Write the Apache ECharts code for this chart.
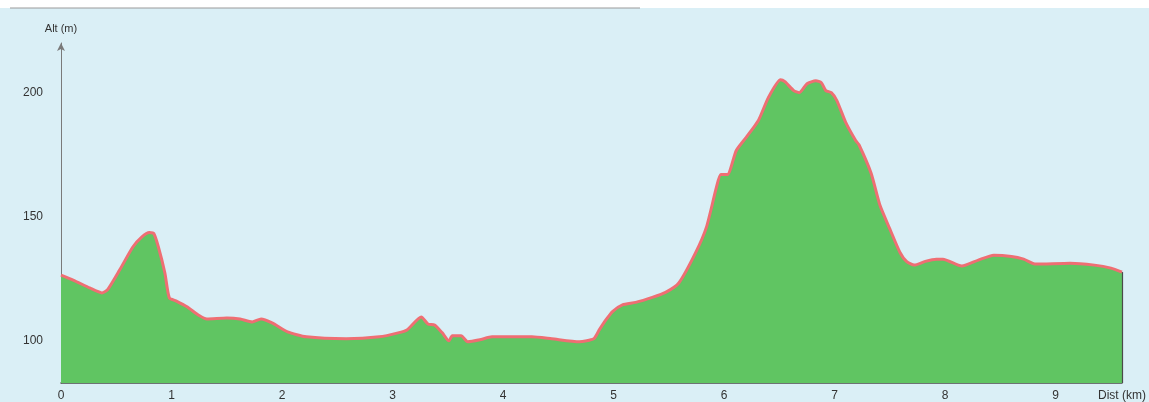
<!DOCTYPE html>
<html>
<head>
<meta charset="utf-8">
<script src="https://cdn.jsdelivr.net/npm/echarts@6/dist/echarts.min.js"></script>
<style>
html,body{margin:0;padding:0;background:#daeff6;}
#c{width:1149px;height:402px;}
</style>
</head>
<body>
<div id="c"></div>
<script>
// Distance along track (km)
const distKm = [0, 0.11, 0.26, 0.37, 0.42, 0.53, 0.65, 0.73, 0.8, 0.84, 0.88, 0.94, 0.98, 1.04, 1.14, 1.25, 1.32, 1.5, 1.62, 1.73, 1.81, 1.91, 2.05, 2.22, 2.58, 2.88, 3.05, 3.13, 3.26, 3.32, 3.38, 3.45, 3.51, 3.54, 3.62, 3.68, 3.79, 3.9, 4.26, 4.44, 4.69, 4.82, 4.87, 4.93, 4.99, 5.08, 5.2, 5.35, 5.47, 5.59, 5.74, 5.84, 5.93, 5.97, 6.03, 6.11, 6.2, 6.31, 6.4, 6.51, 6.55, 6.63, 6.68, 6.75, 6.83, 6.88, 6.92, 6.97, 7.02, 7.1, 7.19, 7.22, 7.33, 7.41, 7.5, 7.59, 7.65, 7.72, 7.82, 7.92, 7.98, 8.15, 8.3, 8.44, 8.6, 8.71, 8.82, 9.13, 9.35, 9.5, 9.6];
// Altitude (m)
const altM = [126.5, 124.5, 121.3, 119.3, 120.5, 128.5, 137.8, 141.8, 143.6, 143.2, 138, 127.3, 117.3, 116.1, 113.7, 110.2, 108.8, 109.2, 108.8, 107.6, 108.8, 107.2, 103.6, 101.6, 100.8, 101.6, 103.2, 104.4, 109.6, 106.8, 106.4, 103.2, 100, 102, 102, 99.6, 100.4, 101.6, 101.6, 100.8, 99.6, 100.8, 104.4, 108.4, 111.8, 114.5, 115.5, 117.5, 119.5, 123.3, 135.3, 145.8, 161.8, 167, 167, 176.7, 182, 188.8, 198, 205.2, 204.4, 200.8, 200, 203.6, 204.8, 204, 200.8, 200, 196.8, 188, 180.7, 179, 167.5, 154.6, 145, 135.7, 132, 130.5, 132, 132.9, 132.9, 130.1, 132.5, 134.5, 134, 132.9, 130.9, 131.3, 130.5, 129.3, 127.7];
// Tick labels
const xTicks = [0, 1, 2, 3, 4, 5, 6, 7, 8, 9];
const yTicks = [100, 150, 200];

const points = distKm.map((d, i) => [d, altM[i]]);
const font = '"Liberation Sans", Arial, sans-serif';

const chart = echarts.init(document.getElementById('c'));
chart.setOption({
  backgroundColor: '#daeff6',
  animation: false,
  grid: { left: 61, right: 25, top: 43, bottom: 18 },
  graphic: [
    { type: 'rect', shape: { x: 0, y: 0, width: 1149, height: 8 }, style: { fill: '#ffffff' }, z: -1 },
    { type: 'line', shape: { x1: 10, y1: 8, x2: 640, y2: 8 }, style: { stroke: '#9a9a9a', lineWidth: 1 }, z: -1 }
  ],
  xAxis: {
    type: 'value', min: 0, max: 9.6, interval: 1,
    name: 'Dist (km)', nameLocation: 'end', nameGap: 0,
    nameTextStyle: { color: '#333', fontSize: 12, fontFamily: font, align: 'center', verticalAlign: 'top', padding: [7, 0, 0, 0] },
    axisLine: { show: true, lineStyle: { color: '#4a4a4a', width: 1.5 } },
    axisTick: { show: false },
    splitLine: { show: false },
    axisLabel: { customValues: xTicks, color: '#333', fontSize: 12, fontFamily: font, margin: 7 }
  },
  yAxis: {
    type: 'value', min: 83, max: 220,
    name: 'Alt (m)', nameLocation: 'end', nameGap: 9,
    nameTextStyle: { color: '#333', fontSize: 11, fontFamily: font },
    axisLine: { show: true, symbol: ['none', 'arrow'], symbolSize: [6, 8], lineStyle: { color: '#7a7a7a', width: 1 } },
    axisTick: { show: false },
    splitLine: { show: false },
    axisLabel: { customValues: yTicks, color: '#333', fontSize: 12, fontFamily: font, margin: 18 }
  },
  series: [{
    type: 'line',
    data: points,
    showSymbol: false,
    smooth: 0.2,
    lineStyle: { color: '#ef6e73', width: 3 },
    areaStyle: { color: '#60c562', opacity: 1 },
    markLine: {
      silent: true, symbol: 'none', label: { show: false },
      lineStyle: { color: '#4a4a4a', width: 1.2, type: 'solid' },
      data: [[{ coord: [9.6, 83] }, { coord: [9.6, 127.7] }]]
    }
  }]
});
</script>
</body>
</html>
